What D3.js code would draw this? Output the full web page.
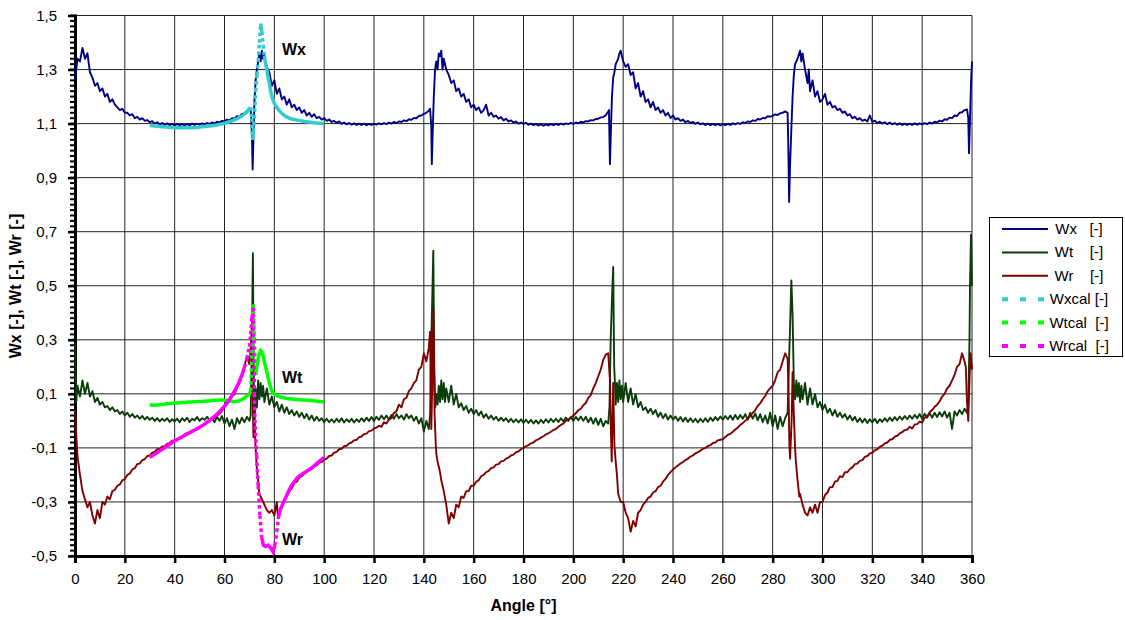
<!DOCTYPE html>
<html>
<head>
<meta charset="utf-8">
<script src="https://cdnjs.cloudflare.com/ajax/libs/d3/7.8.5/d3.min.js"></script>
<style>
  body { margin: 0; background: #fff; }
  text { font-family: "Liberation Sans", Arial, sans-serif; }
</style>
</head>
<body>
<svg width="1125" height="620"></svg>
<script>

// tick labels
var xTicks = [0,20,40,60,80,100,120,140,160,180,200,220,240,260,280,300,320,340,360];
var yTicks = [-0.5,-0.3,-0.1,0.1,0.3,0.5,0.7,0.9,1.1,1.3,1.5];

// measured series, one value per degree (index = angle 0..360)
var wx = [
  1.26,1.34,1.33,1.38,1.34,1.36,1.29,1.27,1.24,1.25,
  1.22,1.23,1.20,1.21,1.18,1.19,1.17,1.16,1.15,1.155,
  1.14,1.14,1.13,1.135,1.12,1.125,1.115,1.12,1.11,1.113,
  1.105,1.109,1.100,1.105,1.097,1.102,1.095,1.101,1.094,1.099,
  1.093,1.099,1.094,1.098,1.093,1.099,1.094,1.1,1.095,1.099,
  1.096,1.101,1.097,1.102,1.099,1.104,1.101,1.107,1.104,1.11,
  1.108,1.115,1.111,1.12,1.118,1.127,1.125,1.136,1.138,1.148,
  1.15,1.06,1.18,1.30,1.36,1.37,1.35,1.31,1.29,1.24,
  1.26,1.21,1.23,1.19,1.20,1.17,1.19,1.16,1.17,1.15,
  1.16,1.14,1.15,1.13,1.14,1.125,1.135,1.12,1.125,1.115,
  1.12,1.11,1.115,1.106,1.11,1.103,1.108,1.099,1.104,1.097,
  1.102,1.096,1.101,1.095,1.1,1.095,1.1,1.094,1.099,1.095,
  1.1,1.096,1.101,1.097,1.102,1.098,1.104,1.1,1.106,1.102,
  1.108,1.106,1.112,1.109,1.116,1.114,1.121,1.12,1.128,1.13,
  1.136,1.14,1.148,1.09,1.20,1.33,1.36,1.37,1.34,1.30,
  1.28,1.25,1.26,1.22,1.23,1.20,1.21,1.18,1.19,1.16,
  1.17,1.15,1.16,1.14,1.15,1.17,1.13,1.14,1.125,1.13,
  1.118,1.124,1.112,1.118,1.108,1.112,1.104,1.108,1.1,1.104,
  1.099,1.103,1.096,1.1,1.094,1.099,1.093,1.098,1.092,1.097,
  1.093,1.098,1.094,1.099,1.095,1.1,1.096,1.101,1.098,1.103,
  1.099,1.104,1.101,1.107,1.104,1.109,1.108,1.113,1.112,1.117,
  1.118,1.123,1.124,1.131,1.145,1.05,1.27,1.32,1.34,1.37,
  1.33,1.31,1.32,1.28,1.29,1.23,1.25,1.2,1.22,1.18,
  1.19,1.16,1.18,1.15,1.16,1.14,1.15,1.13,1.14,1.12,
  1.13,1.115,1.12,1.11,1.115,1.105,1.11,1.102,1.106,1.099,
  1.104,1.097,1.101,1.095,1.1,1.094,1.099,1.094,1.099,1.093,
  1.098,1.094,1.099,1.095,1.101,1.097,1.102,1.099,1.105,1.102,
  1.108,1.106,1.112,1.11,1.117,1.115,1.121,1.12,1.127,1.126,
  1.128,1.134,1.132,1.138,1.14,1.145,1.14,0.95,1.20,1.32,
  1.34,1.37,1.36,1.3,1.25,1.22,1.26,1.2,1.22,1.18,
  1.19,1.21,1.17,1.18,1.16,1.165,1.15,1.155,1.14,1.145,
  1.13,1.135,1.12,1.125,1.115,1.12,1.11,1.115,1.108,1.13,
  1.106,1.111,1.102,1.107,1.1,1.105,1.098,1.104,1.097,1.102,
  1.096,1.101,1.095,1.1,1.095,1.1,1.095,1.101,1.096,1.101,
  1.097,1.102,1.098,1.104,1.1,1.107,1.104,1.111,1.108,1.116,
  1.114,1.122,1.12,1.13,1.128,1.14,1.142,1.15,1.152,1.05,
  1.33
];
// extra readings around the blade passages [angle, value]
var wxFine = [[70.5,1.155],[71.3,0.93],[71.6,1.04],[72.5,1.26],[73.5,1.33],[74.5,1.33],[75.5,1.34],
  [142.5,1.155],[143.2,0.95],[143.5,1.05],[144.5,1.3],[145.5,1.3],[146.5,1.35],[147.5,1.3],
  [214.3,1.15],[214.7,0.95],[215.5,1.2],[216.5,1.29],[218.5,1.36],[219.5,1.35],
  [286.3,1.0],[286.6,0.81],[287.5,1.08],[288.5,1.28],[291.5,1.33],[294.5,1.3],
  [358.5,1.12],[358.8,0.99],[359.3,1.15],[359.6,1.25]];

var wt = [
  0.29,0.13,0.09,0.15,0.10,0.14,0.09,0.11,0.07,0.085,
  0.06,0.07,0.05,0.055,0.04,0.05,0.035,0.04,0.025,0.035,
  0.02,0.03,0.015,0.025,0.012,0.02,0.008,0.018,0.005,0.015,
  0.004,0.012,0,0.01,-0.002,0.008,0,0.01,-0.004,0.006,
  -0.002,0.008,-0.005,0.01,0,0.012,-0.004,0.008,0.002,0.014,
  0,0.01,0.004,0.015,0.002,0.012,-0.005,0.015,0,0.018,
  -0.01,0.01,-0.02,0.005,-0.03,0.01,-0.01,0.012,-0.005,0.015,
  0,0.3,-0.04,0.05,0.08,0.09,0.07,0.12,0.06,0.09,
  0.05,0.07,0.035,0.06,0.03,0.05,0.025,0.04,0.02,0.035,
  0.015,0.03,0.01,0.025,0.005,0.02,0,0.015,0,0.01,
  -0.005,0.008,-0.005,0.006,-0.006,0.008,-0.004,0.01,-0.006,0.006,
  -0.004,0.008,-0.006,0.006,-0.004,0.01,-0.002,0.012,0,0.014,
  0,0.015,0.004,0.02,0.006,0.02,0.004,0.022,0.008,0.025,
  0.01,0.02,0.005,0.025,0.01,0.02,0,0.015,-0.01,0.01,
  -0.04,0,-0.03,0.3,0.42,0.1,0.13,0.15,0.14,0.12,
  0.07,0.13,0.06,0.1,0.05,0.065,0.04,0.055,0.03,0.045,
  0.025,0.04,0.02,0.035,0.012,0.025,0.008,0.02,0.005,0.015,
  0,0.012,0,0.01,-0.004,0.008,-0.005,0.006,-0.006,0.006,
  -0.008,0.004,-0.008,0.004,-0.01,0.002,-0.01,0.004,-0.008,0.006,
  -0.006,0.008,-0.004,0.008,-0.004,0.01,-0.002,0.012,0,0.014,
  0,0.015,0.002,0.016,0,0.015,-0.005,0.012,-0.01,0.01,
  -0.015,0.008,-0.02,0,-0.01,0.3,0.57,0.06,0.07,0.08,
  0.07,0.14,0.07,0.12,0.06,0.1,0.05,0.07,0.04,0.05,
  0.03,0.045,0.025,0.04,0.015,0.03,0.01,0.025,0.005,0.02,
  0.005,0.016,0,0.014,-0.002,0.012,-0.004,0.01,-0.004,0.008,
  -0.006,0.008,-0.004,0.01,-0.004,0.012,0,0.014,0.002,0.016,
  0.004,0.018,0.006,0.02,0.004,0.022,0.006,0.022,0.008,0.025,
  0.005,0.03,0.008,0.028,0.002,0.025,-0.005,0.02,-0.01,0.03,
  -0.02,0.02,-0.03,0.015,-0.02,0.01,0.03,0.35,0.39,0.08,
  0.09,0.07,0.08,0.14,0.06,0.12,0.06,0.1,0.05,0.07,
  0.04,0.06,0.03,0.045,0.02,0.04,0.015,0.03,0.012,0.025,
  0.005,0.02,0.002,0.015,-0.004,0.01,-0.006,0.008,-0.008,0.006,
  -0.006,0.008,-0.008,0.006,-0.004,0.01,-0.002,0.012,0,0.014,
  0.002,0.016,0.004,0.018,0.006,0.02,0.008,0.022,0.01,0.025,
  0.008,0.026,0.012,0.028,0.012,0.03,0.014,0.032,0.016,0.035,
  0.012,0.03,-0.03,0.035,0.02,0.04,0.025,0.045,0.03,0.3,
  0.5
];
var wtFine = [[0.5,0.07],[70.5,0.02],[71.4,0.62],[71.7,0.2],[72.5,0.12],[73.5,0.15],[74.5,0.14],[75.5,0.13],
  [142.5,0.02],[143.5,0.5],[143.8,0.63],[144.2,0.2],[144.6,0.05],[145.5,0.06],[146.5,0.07],[147.5,0.08],[148.5,0.07],
  [214.5,0.05],[215.5,0.45],[216.4,0.2],[216.8,0.12],[217.5,0.14],[218.5,0.15],[219.5,0.13],
  [286.5,0.2],[287.5,0.52],[288.5,0.14],[289.5,0.15],[290.5,0.14],[291.5,0.13],
  [358.5,0.06],[358.8,0.2],[359.2,0.5],[359.6,0.69]];

var wr = [
  0.04,-0.13,-0.2,-0.26,-0.29,-0.32,-0.3,-0.35,-0.38,-0.33,
  -0.36,-0.3,-0.31,-0.28,-0.29,-0.26,-0.255,-0.24,-0.235,-0.22,
  -0.215,-0.2,-0.195,-0.18,-0.175,-0.16,-0.158,-0.145,-0.142,-0.13,
  -0.128,-0.118,-0.115,-0.105,-0.104,-0.095,-0.094,-0.085,-0.082,-0.073,
  -0.072,-0.068,-0.062,-0.058,-0.05,-0.045,-0.043,-0.036,-0.034,-0.027,
  -0.025,-0.017,-0.014,-0.006,-0.003,0.006,0.01,0.02,0.026,0.038,
  0.05,0.062,0.072,0.09,0.098,0.125,0.14,0.17,0.2,0.24,
  0.21,0.36,0,-0.18,-0.27,-0.29,-0.31,-0.33,-0.34,-0.33,
  -0.35,-0.3,-0.34,-0.32,-0.29,-0.28,-0.26,-0.25,-0.23,-0.225,
  -0.21,-0.205,-0.195,-0.19,-0.18,-0.178,-0.168,-0.165,-0.155,-0.152,
  -0.143,-0.14,-0.13,-0.128,-0.118,-0.115,-0.105,-0.103,-0.094,-0.092,
  -0.083,-0.08,-0.072,-0.07,-0.06,-0.058,-0.049,-0.047,-0.038,-0.036,
  -0.028,-0.025,-0.018,-0.022,-0.005,-0.01,0.005,0.01,0.03,0.035,
  0.06,0.05,0.08,0.085,0.11,0.12,0.14,0.15,0.19,0.2,
  0.25,0.22,0.27,-0.03,0.25,-0.12,-0.17,-0.22,-0.26,-0.31,
  -0.38,-0.34,-0.36,-0.31,-0.32,-0.28,-0.285,-0.26,-0.26,-0.24,
  -0.24,-0.225,-0.22,-0.205,-0.2,-0.19,-0.185,-0.175,-0.172,-0.162,
  -0.16,-0.15,-0.148,-0.14,-0.136,-0.128,-0.125,-0.116,-0.113,-0.105,
  -0.1,-0.094,-0.09,-0.083,-0.08,-0.072,-0.068,-0.062,-0.057,-0.05,
  -0.046,-0.04,-0.034,-0.03,-0.022,-0.015,-0.01,0,0.005,0.012,
  0.02,0.028,0.04,0.045,0.058,0.066,0.085,0.095,0.12,0.14,
  0.165,0.19,0.225,0.245,0.25,0,0.14,-0.15,-0.27,-0.3,
  -0.3,-0.34,-0.36,-0.41,-0.37,-0.39,-0.34,-0.33,-0.31,-0.3,
  -0.285,-0.28,-0.265,-0.26,-0.245,-0.24,-0.225,-0.215,-0.2,-0.19,
  -0.18,-0.172,-0.165,-0.158,-0.152,-0.145,-0.14,-0.132,-0.128,-0.12,
  -0.116,-0.11,-0.104,-0.1,-0.093,-0.09,-0.082,-0.08,-0.072,-0.07,
  -0.068,-0.06,-0.052,-0.048,-0.04,-0.032,-0.025,-0.015,-0.008,0,
  0.008,0.018,0.03,0.04,0.055,0.065,0.08,0.092,0.11,0.12,
  0.13,0.15,0.18,0.19,0.22,0.25,0.23,-0.14,0.18,-0.1,
  -0.22,-0.27,-0.31,-0.34,-0.35,-0.32,-0.34,-0.31,-0.34,-0.3,
  -0.3,-0.275,-0.265,-0.245,-0.245,-0.225,-0.222,-0.205,-0.208,-0.19,
  -0.19,-0.178,-0.172,-0.16,-0.158,-0.148,-0.145,-0.133,-0.13,-0.12,
  -0.118,-0.108,-0.105,-0.096,-0.092,-0.083,-0.08,-0.07,-0.068,-0.058,
  -0.055,-0.046,-0.042,-0.034,-0.032,-0.022,-0.028,-0.013,-0.012,-0.003,
  -0.006,0.012,0.015,0.032,0.04,0.052,0.06,0.072,0.09,0.1,
  0.12,0.13,0.15,0.17,0.2,0.21,0.25,0.22,0.07,0.15,
  0.19
];
var wrFine = [[0.5,-0.05],[70.5,0.26],[71.3,0.1],[71.6,-0.06],[72.5,-0.1],[73.5,-0.22],[81.5,-0.36],
  [142.5,0.33],[143.3,0.1],[143.8,0.41],[144.3,0.03],[144.8,-0.09],[145.5,-0.15],[146.5,-0.19],
  [214.7,0.15],[215.4,-0.15],[216.5,-0.09],[217.5,-0.2],
  [286.4,0.1],[286.7,-0.09],[287.6,0.0],[288.4,0.05],[288.7,-0.03],[289.3,-0.15],[290.7,-0.28],
  [357.5,0.2],[358.5,0.0],[359.4,0.25]];

// calculated curves, 30..100 deg [angle, value]
var wxcal = [[30,1.094],[31,1.092],[32,1.091],[33,1.09],[34,1.089],[35,1.088],[36,1.087],[37,1.087],[38,1.086],[39,1.086],
  [40,1.085],[41,1.085],[42,1.085],[43,1.085],[44,1.085],[45,1.085],[46,1.085],[47,1.085],[48,1.086],[49,1.086],
  [50,1.087],[51,1.088],[52,1.089],[53,1.09],[54,1.091],[55,1.092],[56,1.094],[57,1.095],[58,1.097],[59,1.099],
  [60,1.101],[61,1.104],[62,1.107],[63,1.11],[64,1.114],[65,1.118],[66,1.123],[67,1.128],[68,1.135],[69,1.143],
  [70,1.155],[70.5,1.16],[71,1.12],[71.3,1.04],[71.6,1.07],[72,1.12],[72.5,1.22],[73,1.28],[73.5,1.33],[74,1.4],
  [74.5,1.47],[75,1.44],[75.5,1.39],[76,1.35],[76.5,1.32],[77,1.3],[77.5,1.27],[78,1.25],[78.5,1.22],[79,1.2],
  [79.5,1.187],[80,1.175],[81,1.16],[82,1.148],[83,1.138],[84,1.13],[85,1.125],[86,1.12],[87,1.117],[88,1.115],
  [89,1.113],[90,1.112],[91,1.11],[92,1.108],[93,1.107],[94,1.106],[95,1.104],[96,1.103],[97,1.102],[98,1.101],
  [99,1.1],[100,1.1]];
var wtcal = [[30,0.06],[31,0.059],[32,0.058],[33,0.059],[34,0.06],[35,0.061],[36,0.062],[37,0.063],[38,0.064],[39,0.065],
  [40,0.066],[41,0.066],[42,0.067],[43,0.068],[44,0.068],[45,0.069],[46,0.07],[47,0.07],[48,0.071],[49,0.071],
  [50,0.072],[51,0.072],[52,0.073],[53,0.074],[54,0.074],[55,0.075],[56,0.076],[57,0.076],[58,0.077],[59,0.077],
  [60,0.076],[61,0.075],[62,0.074],[63,0.073],[64,0.072],[65,0.073],[66,0.075],[67,0.079],[68,0.085],[69,0.092],
  [70,0.1],[70.5,0.11],[71,0.25],[71.5,0.43],[72,0.3],[72.5,0.17],[73,0.2],[73.5,0.23],[74,0.25],[74.5,0.26],
  [75,0.255],[75.5,0.24],[76,0.22],[76.5,0.2],[77,0.18],[77.5,0.16],[78,0.14],[78.5,0.125],[79,0.11],[80,0.1],
  [81,0.094],[82,0.09],[83,0.087],[84,0.085],[85,0.083],[86,0.082],[87,0.081],[88,0.08],[89,0.079],[90,0.078],
  [91,0.077],[92,0.077],[93,0.076],[94,0.076],[95,0.075],[96,0.074],[97,0.073],[98,0.072],[99,0.071],[100,0.07]];
var wrcal = [[30,-0.135],[31,-0.129],[32,-0.123],[33,-0.117],[34,-0.111],[35,-0.105],[36,-0.099],[37,-0.093],[38,-0.087],[39,-0.08],
  [40,-0.074],[41,-0.069],[42,-0.064],[43,-0.059],[44,-0.054],[45,-0.049],[46,-0.044],[47,-0.039],[48,-0.034],[49,-0.029],
  [50,-0.024],[51,-0.018],[52,-0.012],[53,-0.005],[54,0.002],[55,0.009],[56,0.017],[57,0.025],[58,0.034],[59,0.044],
  [60,0.055],[61,0.067],[62,0.08],[63,0.094],[64,0.11],[65,0.127],[66,0.147],[67,0.17],[68,0.197],[69,0.23],
  [70,0.275],[70.5,0.32],[71,0.38],[71.6,0.42],[72,0.1],[72.3,-0.02],[72.9,-0.13],[73.5,-0.24],[74.2,-0.35],[74.9,-0.43],
  [75.6,-0.46],[76.5,-0.465],[77.5,-0.46],[78.5,-0.47],[79.5,-0.485],[80.2,-0.46],[81,-0.41],[81.6,-0.36],[82.3,-0.33],[83,-0.315],
  [84,-0.295],[85,-0.275],[86,-0.255],[87,-0.238],[88,-0.225],[89,-0.213],[90,-0.204],[91,-0.198],[92,-0.192],[93,-0.186],
  [94,-0.18],[95,-0.174],[96,-0.166],[97,-0.158],[98,-0.15],[99,-0.142],[100,-0.135]];

var svg = d3.select("svg");
var x = d3.scaleLinear().domain([0, 360]).range([75, 972]);
var y = d3.scaleLinear().domain([-0.5, 1.5]).range([556, 15.5]);

function merge(base, fine) {
  return base.map(function(v, i) { return [i, v]; }).concat(fine)
    .sort(function(a, b) { return a[0] - b[0]; });
}

// grid
svg.append("g").selectAll("line").data(xTicks.slice(1)).enter().append("line")
  .attr("x1", d => x(d)).attr("x2", d => x(d))
  .attr("y1", y(-0.5)).attr("y2", y(1.5))
  .attr("stroke", "#222").attr("stroke-width", 1);
svg.append("g").selectAll("line").data(yTicks.slice(1)).enter().append("line")
  .attr("x1", x(0)).attr("x2", x(360))
  .attr("y1", d => y(d)).attr("y2", d => y(d))
  .attr("stroke", "#222").attr("stroke-width", 1);

// axes
var fmt = d => d.toFixed(1).replace(".", ",");
var yAxis = svg.append("g").attr("transform", "translate(75,0)")
  .call(d3.axisLeft(y).tickValues(yTicks).tickFormat(fmt).tickSizeOuter(0).tickPadding(12));
var xAxis = svg.append("g").attr("transform", "translate(0,556)")
  .call(d3.axisBottom(x).tickValues(xTicks).tickSizeOuter(0).tickSize(7).tickPadding(10));

[xAxis, yAxis].forEach(function(a) {
  a.select(".domain").attr("stroke", "#000").attr("stroke-width", 3);
  a.selectAll(".tick line").attr("stroke", "#000").attr("stroke-width", 2.5);
  a.selectAll(".tick text").attr("font-size", 15).attr("fill", "#000")
    .attr("font-family", "'Liberation Sans', Arial, sans-serif");
});
yAxis.selectAll(".tick line").attr("x1", 2).attr("x2", -7);
// minor ticks on y every 0.02
yAxis.append("g").selectAll("line").data(d3.range(0, 101).map(i => -0.5 + i * 0.02)).enter().append("line")
  .attr("x1", -5).attr("x2", 2)
  .attr("y1", d => y(d)).attr("y2", d => y(d))
  .attr("stroke", "#000").attr("stroke-width", 2);

// axis titles
svg.append("text").attr("x", 523.5).attr("y", 611).attr("text-anchor", "middle")
  .attr("font-size", 16).attr("font-weight", "bold").text("Angle [°]");
svg.append("text").attr("transform", "translate(21,286) rotate(-90)").attr("text-anchor", "middle")
  .attr("font-size", 16).attr("font-weight", "bold").text("Wx [-], Wt [-], Wr [-]");

var line = d3.line().x(d => x(d[0])).y(d => y(d[1]));

var measured = [
  {name: "Wx   [-]", data: merge(wx, wxFine), color: "#000080"},
  {name: "Wt    [-]", data: merge(wt, wtFine), color: "#0a3d0a"},
  {name: "Wr    [-]", data: merge(wr, wrFine), color: "#800000"}
];
var calc = [
  {name: "Wxcal [-]", data: wxcal, color: "#33cccc"},
  {name: "Wtcal  [-]", data: wtcal, color: "#00ff00"},
  {name: "Wrcal  [-]", data: wrcal, color: "#ff00ff"}
];

measured.forEach(function(s) {
  svg.append("path").datum(s.data).attr("d", line)
    .attr("fill", "none").attr("stroke", s.color).attr("stroke-width", 1.9)
    .attr("stroke-linejoin", "round");
});

// dashed style restarts on every segment: short segments look solid, steep ones dotted
calc.forEach(function(s) {
  var g = svg.append("g");
  var run = [s.data[0]];
  for (var i = 1; i < s.data.length; i++) {
    var a = s.data[i - 1], b = s.data[i];
    var len = Math.hypot(x(b[0]) - x(a[0]), y(b[1]) - y(a[1]));
    if (len <= 9) {
      run.push(b);
    } else {
      if (run.length > 1) g.append("path").datum(run).attr("d", line);
      g.append("path").datum([a, b]).attr("d", line).attr("stroke-dasharray", "3.5,3");
      run = [b];
    }
  }
  if (run.length > 1) g.append("path").datum(run).attr("d", line);
  g.selectAll("path").attr("fill", "none").attr("stroke", s.color).attr("stroke-width", 3.5);
});

// labels on the curves
[["Wx", 282, 55], ["Wt", 282, 383], ["Wr", 282, 545]].forEach(function(t) {
  svg.append("text").attr("x", t[1]).attr("y", t[2]).attr("font-size", 16)
    .attr("font-weight", "bold").text(t[0]);
});

// legend
var lg = svg.append("g");
lg.append("rect").attr("x", 989.5).attr("y", 217.5).attr("width", 133).attr("height", 139)
  .attr("fill", "#fff").attr("stroke", "#000").attr("stroke-width", 1);
measured.concat(calc).forEach(function(s, i) {
  var yy = 229 + i * 23.4;
  var l = lg.append("line").attr("x1", 1002).attr("x2", 1048).attr("y1", yy).attr("y2", yy)
    .attr("stroke", s.color);
  if (i < 3) l.attr("stroke-width", 2);
  else l.attr("stroke-width", 4).attr("stroke-dasharray", "6,12");
  lg.append("text").attr("x", 1079).attr("y", yy + 5).attr("text-anchor", "middle")
    .attr("font-size", 15).style("white-space", "pre").text(s.name);
});
</script>
</body>
</html>
